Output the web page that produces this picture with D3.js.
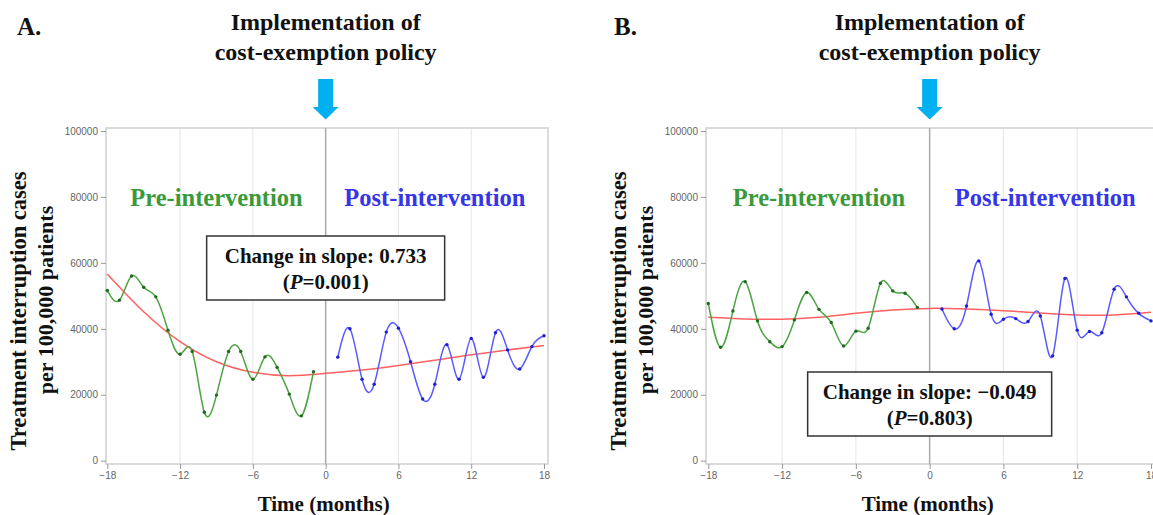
<!DOCTYPE html>
<html>
<head>
<meta charset="utf-8">
<script src="https://cdn.jsdelivr.net/npm/d3@7"></script>
<style>
  body { margin: 0; background: white; }
  .tick text { font-family: "Liberation Sans", Arial, sans-serif; font-size: 10px; fill: #666; }
  .tick line { stroke: #999; }
  .serif { font-family: "Liberation Serif", "Times New Roman", serif; font-weight: bold; }
</style>
</head>
<body>
<script>
// 月份
const preMonths = [-18, -17, -16, -15, -14, -13, -12, -11, -10, -9, -8, -7, -6, -5, -4, -3, -2, -1];
const postMonths = [1, 2, 3, 4, 5, 6, 7, 8, 9, 10, 11, 12, 13, 14, 15, 16, 17, 18];
const trendMonths = [-18, -15, -12, -9, -6, -3, 0, 3, 6, 9, 12, 15, 18];
const xTicks = [-18, -12, -6, 0, 6, 12, 18];
const yTicks = [0, 20000, 40000, 60000, 80000, 100000];

// A 图数据
const preA = [51600, 48700, 56000, 52600, 49700, 39600, 32300, 33100, 14700, 19900, 33100, 33100, 24700, 31500, 28300, 20200, 13600, 27000];
const postA = [31400, 40000, 24700, 23200, 39000, 40200, 30000, 18700, 23200, 35200, 24700, 37100, 25300, 38800, 33600, 27800, 34600, 37900];
const trendA = [56600, 45200, 36100, 30000, 26800, 25800, 26500, 27500, 28900, 30500, 32100, 33600, 34900];

// B 图数据
const preB = [47700, 34400, 45400, 54300, 42400, 36100, 34600, 42700, 51000, 45900, 41900, 34800, 39300, 40200, 53800, 51500, 50800, 46500];
const postB = [46000, 40000, 46900, 60600, 44400, 42900, 43100, 42200, 43900, 31800, 55300, 39600, 39200, 38800, 52000, 49700, 44700, 42400];
const trendB = [43500, 43000, 42900, 43500, 44700, 45700, 46200, 46000, 45500, 44800, 44200, 44200, 45000];

const svg = d3.select("body").append("svg").attr("width", 1153).attr("height", 515).style("background", "white");

function drawPanel(p)
{
    const g = svg.append("g");
    const xScale = d3.scaleLinear().domain([-18, 18]).range([p.x0, p.x1]);
    const yScale = d3.scaleLinear().domain([0, 100000]).range([460.7, 131]);
    const top = 128, bottom = 464;
    const cx = xScale(0);

    // 网格线
    g.selectAll("line.grid").data(xTicks.filter(d => d !== 0 && Math.abs(d) !== 18)).join("line")
        .attr("class", "grid")
        .attr("x1", d => xScale(d)).attr("x2", d => xScale(d))
        .attr("y1", top).attr("y2", bottom)
        .attr("stroke", "#e6e6e6").attr("stroke-width", 1);

    // 边框
    g.append("rect").attr("x", p.left).attr("y", top)
        .attr("width", p.right - p.left).attr("height", bottom - top)
        .attr("fill", "none").attr("stroke", "#cfcfcf").attr("stroke-width", 1.5);

    // 干预线
    g.append("line").attr("x1", cx).attr("x2", cx).attr("y1", top).attr("y2", bottom)
        .attr("stroke", "#aaa").attr("stroke-width", 1.5);

    // 坐标轴
    const yAxis = d3.axisLeft(yScale).tickValues(yTicks).tickSize(5).tickFormat(d3.format("d"));
    g.append("g").attr("transform", `translate(${p.left}, 0)`).call(yAxis)
        .call(a => a.select(".domain").remove());
    const xAxis = d3.axisBottom(xScale).tickValues(xTicks).tickSize(5);
    g.append("g").attr("transform", `translate(0, ${bottom})`).call(xAxis)
        .call(a => a.select(".domain").remove());

    // 趋势线
    const line = d3.line().x(d => xScale(d[0])).y(d => yScale(d[1])).curve(d3.curveNatural);
    g.append("path").datum(d3.zip(trendMonths, p.trend))
        .attr("d", line).attr("fill", "none").attr("stroke", "#ff5050").attr("stroke-width", 1.5).attr("opacity", 0.9);

    // 干预前后曲线
    const series = [
        {m: preMonths, v: p.pre, line: "#4ea443", dot: "#1f6a1f"},
        {m: postMonths, v: p.post, line: "#5a5aff", dot: "#1e1ed0"}
    ];
    series.forEach(s => {
        const pts = d3.zip(s.m, s.v);
        g.append("path").datum(pts).attr("d", line)
            .attr("fill", "none").attr("stroke", s.line).attr("stroke-width", 1.5);
        g.selectAll(null).data(pts).join("circle")
            .attr("cx", d => xScale(d[0])).attr("cy", d => yScale(d[1]))
            .attr("r", 1.7).attr("fill", s.dot);
    });

    // 阶段标签
    g.append("text").attr("class", "serif").attr("x", xScale(-9)).attr("y", 206)
        .attr("text-anchor", "middle").attr("font-size", "24.5px").attr("fill", "#3a9a3a")
        .text("Pre-intervention");
    g.append("text").attr("class", "serif").attr("x", xScale(p.postAt)).attr("y", 206)
        .attr("text-anchor", "middle").attr("font-size", "24.5px").attr("fill", "#3636e6")
        .text("Post-intervention");

    // 斜率框
    g.append("rect").attr("x", cx - p.boxW / 2).attr("y", p.boxTop)
        .attr("width", p.boxW).attr("height", 64)
        .attr("fill", "white").attr("stroke", "#333").attr("stroke-width", 1.5);
    g.append("text").attr("class", "serif").attr("x", cx).attr("y", p.boxTop + 27)
        .attr("text-anchor", "middle").attr("font-size", "21px").attr("fill", "#111")
        .text("Change in slope: " + p.slope);
    const t2 = g.append("text").attr("class", "serif").attr("x", cx).attr("y", p.boxTop + 52.5)
        .attr("text-anchor", "middle").attr("font-size", "21px").attr("fill", "#111");
    t2.append("tspan").text("(");
    t2.append("tspan").attr("font-style", "italic").text("P");
    t2.append("tspan").text("=" + p.pval + ")");

    // 标题与箭头
    g.append("text").attr("class", "serif").attr("x", cx).attr("y", 30)
        .attr("text-anchor", "middle").attr("font-size", "24px").attr("fill", "#111")
        .text("Implementation of");
    g.append("text").attr("class", "serif").attr("x", cx).attr("y", 60)
        .attr("text-anchor", "middle").attr("font-size", "24px").attr("fill", "#111")
        .text("cost-exemption policy");
    g.append("path")
        .attr("d", `M${cx - 7.5},79 H${cx + 7.5} V107 H${cx + 13} L${cx},119.5 L${cx - 13},107 H${cx - 7.5} Z`)
        .attr("fill", "#00b0f0");

    g.append("text").attr("class", "serif").attr("x", p.tag).attr("y", 35)
        .attr("font-size", "25px").attr("fill", "#111").text(p.name);

    // 轴标题
    g.append("text").attr("class", "serif").attr("x", cx - 2).attr("y", 511)
        .attr("text-anchor", "middle").attr("font-size", "21px").attr("fill", "#111")
        .text("Time (months)");
    g.append("text").attr("class", "serif")
        .attr("transform", `translate(${p.left - 80}, 311) rotate(-90)`)
        .attr("text-anchor", "middle").attr("font-size", "22.5px").attr("fill", "#111")
        .text("Treatment interruption cases");
    g.append("text").attr("class", "serif")
        .attr("transform", `translate(${p.left - 53}, 300) rotate(-90)`)
        .attr("text-anchor", "middle").attr("font-size", "22px").attr("fill", "#111")
        .text("per 100,000 patients");
}

drawPanel({name: "A.", tag: 17, left: 106, right: 548, x0: 107.3, x1: 544,
    pre: preA, post: postA, trend: trendA, postAt: 9,
    boxTop: 236, boxW: 238, slope: "0.733", pval: "0.001"});
drawPanel({name: "B.", tag: 614, left: 706, right: 1155, x0: 708.3, x1: 1151,
    pre: preB, post: postB, trend: trendB, postAt: 9.4,
    boxTop: 372, boxW: 244, slope: "\u22120.049", pval: "0.803"});
</script>
</body>
</html>
